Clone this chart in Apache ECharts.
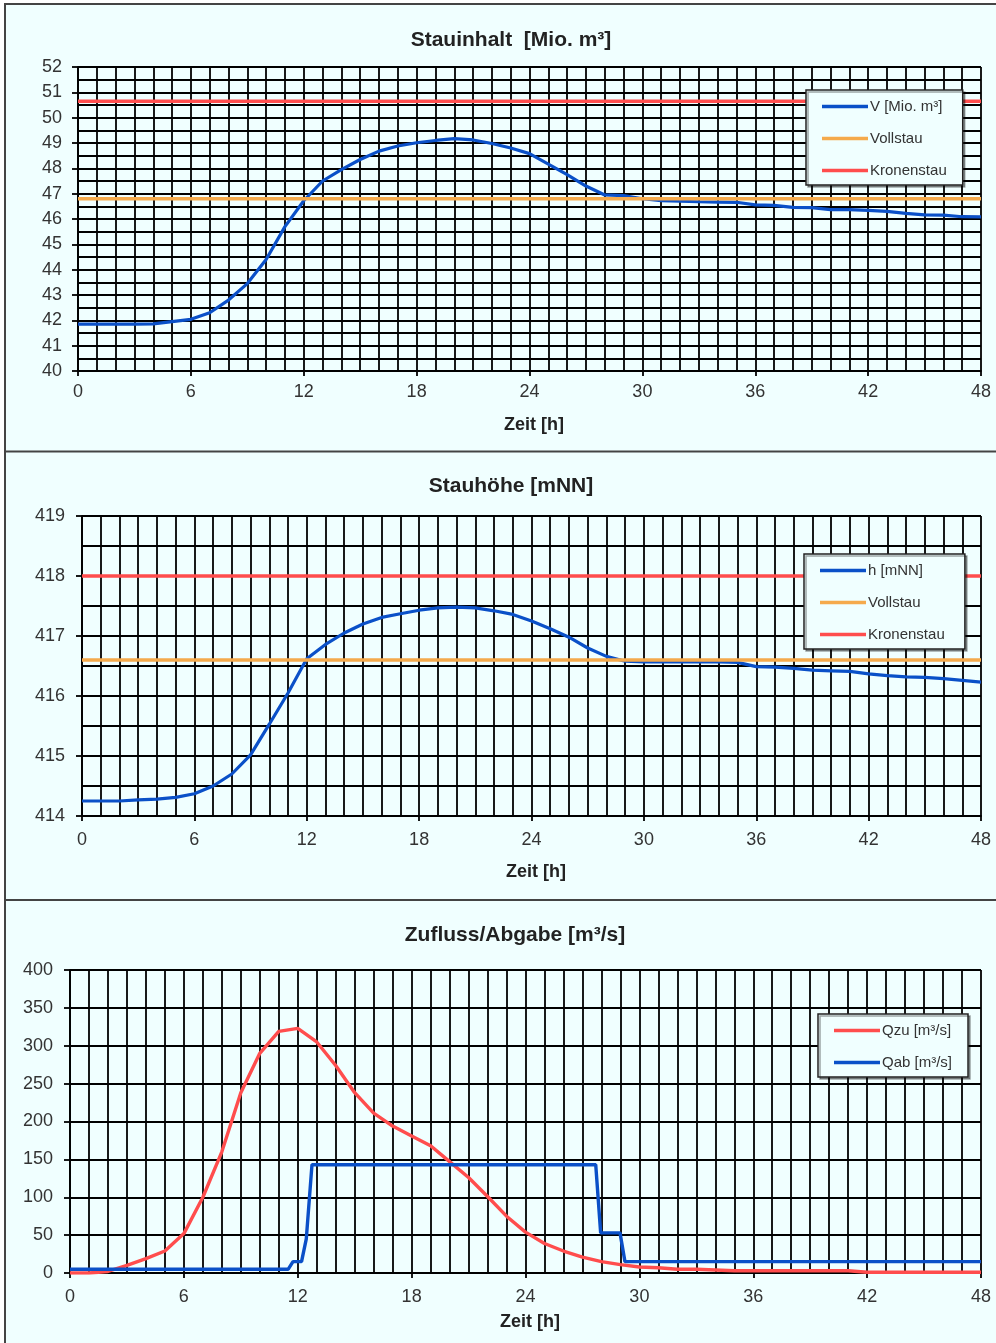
<!DOCTYPE html>
<html>
<head>
<meta charset="utf-8">
<script src="https://cdn.jsdelivr.net/npm/echarts@6/dist/echarts.min.js"></script>
<style>
html,body{margin:0;padding:0;background:#fff;}
#main{width:996px;height:1343px;}
</style>
</head>
<body>
<div id="main"></div>
<script>
// ---------- data ----------
const hours = [0,1,2,3,4,5,6,7,8,9,10,11,12,13,14,15,16,17,18,19,20,21,22,23,24,25,26,27,28,29,30,31,32,33,34,35,36,37,38,39,40,41,42,43,44,45,46,47,48];
const xTickLabels = ['0','6','12','18','24','30','36','42','48'];

// Stauinhalt V [Mio. m³]
const volume = [41.85,41.85,41.85,41.85,41.86,41.95,42.04,42.3,42.8,43.45,44.4,45.7,46.72,47.5,47.95,48.35,48.68,48.88,49.01,49.1,49.17,49.12,48.98,48.8,48.58,48.17,47.75,47.3,46.95,46.92,46.8,46.72,46.7,46.68,46.67,46.66,46.56,46.54,46.46,46.45,46.37,46.37,46.34,46.3,46.22,46.16,46.15,46.09,46.08];
const vollstauV = 46.8;
const kronenstauV = 50.65;

// Stauhöhe h [mNN]
const stage = [414.25,414.25,414.25,414.27,414.28,414.31,414.37,414.5,414.7,415.02,415.53,416.05,416.62,416.86,417.05,417.2,417.31,417.37,417.43,417.47,417.48,417.47,417.42,417.36,417.25,417.12,416.98,416.8,416.66,416.58,416.57,416.57,416.57,416.57,416.57,416.56,416.49,416.48,416.46,416.43,416.42,416.41,416.37,416.34,416.32,416.31,416.29,416.26,416.23];
const vollstauH = 416.6;
const kronenstauH = 418.0;

// Zufluss Qzu [m³/s]
const inflow = [0,0,2,10,19,29,52,100,160,238,290,319,323,305,274,238,211,194,181,168,147,126,101,75,54,39,29,21,15,11,8,7,5,5,4,3,3,3,3,3,3,3,1,1,1,1,1,1,1];

// Abgabe Qab [m³/s]
const outflowHours = [0,11.5,11.75,12.2,12.45,12.75,27.7,27.96,28.98,29.24,48];
const outflow = [5,5,15,15,45,143,143,53,53,15,15];

// ---------- helpers ----------
const FONT = 'Liberation Sans, Arial, sans-serif';
const BLUE = '#0a50c8', ORANGE = '#f5aa4c', RED = '#ff4d4d';
const BG = '#f0ffff';
const GRIDW = 1.8;
const pairs = (xs, ys) => xs.map((x, i) => [x, ys[i]]);
const flat = (v) => [[hours[0], v], [hours[hours.length - 1], v]];

function xAxis(gi, margin, nameGap) {
  return {
    gridIndex: gi, type: 'value', min: 0, max: 48, interval: 6,
    axisLine: {show: true, lineStyle: {color: '#000', width: GRIDW}},
    axisTick: {show: true, length: 5, lineStyle: {color: '#000', width: GRIDW}},
    axisLabel: {fontSize: 18, color: '#333', margin: margin, fontFamily: FONT,
      formatter: (v) => xTickLabels[Math.round(v / 6)]},
    splitLine: {show: true, lineStyle: {color: '#000', width: GRIDW}},
    minorTick: {show: false, splitNumber: 6},
    minorSplitLine: {show: true, lineStyle: {color: '#000', width: GRIDW}},
    name: 'Zeit [h]', nameLocation: 'middle', nameGap: nameGap,
    nameTextStyle: {fontSize: 18, fontWeight: 'bold', color: '#222', fontFamily: FONT, padding: [0, 0, 0, 9]}
  };
}
function yAxis(gi, min, max, interval, minorSplit, margin) {
  return {
    gridIndex: gi, type: 'value', min: min, max: max, interval: interval,
    axisLine: {show: true, lineStyle: {color: '#000', width: GRIDW}},
    axisTick: {show: true, length: 6, lineStyle: {color: '#000', width: GRIDW}},
    axisLabel: {fontSize: 18, color: '#333', margin: margin, fontFamily: FONT},
    splitLine: {show: true, lineStyle: {color: '#000', width: GRIDW}},
    minorTick: {show: false, splitNumber: minorSplit || 1},
    minorSplitLine: {show: !!minorSplit, lineStyle: {color: '#000', width: GRIDW}}
  };
}
function line(name, data, color, width, xi, z) {
  return {
    name: name, type: 'line', xAxisIndex: xi, yAxisIndex: xi, data: data,
    symbol: 'none', smooth: false, z: z || 2,
    lineStyle: {color: color, width: width}, itemStyle: {color: color},
    emphasis: {disabled: true}, animation: false
  };
}
function legend(names, left, top) {
  return {
    data: names, orient: 'vertical', left: left, top: top,
    icon: 'rect', itemWidth: 46, itemHeight: 3.5, itemGap: 17,
    padding: [9, 16, 7, 16],
    backgroundColor: BG, borderColor: '#222', borderWidth: 1.5,
    shadowColor: 'rgba(0,0,0,0.35)', shadowOffsetX: 2, shadowOffsetY: 2, shadowBlur: 0,
    textStyle: {fontSize: 15, color: '#333', fontFamily: FONT, padding: [0, 0, 0, -3]},
    selectedMode: false
  };
}
function title(text, x, y) {
  return {
    text: text, left: x, top: y, textAlign: 'center', padding: 0,
    textStyle: {fontSize: 21, fontWeight: 'bold', color: '#222', fontFamily: FONT}
  };
}

const option = {
  backgroundColor: BG,
  animation: false,
  title: [
    title('Stauinhalt  [Mio. m³]', 511, 30),
    title('Stauhöhe [mNN]', 511, 476),
    title('Zufluss/Abgabe [m³/s]', 515, 925)
  ],
  legend: [
    legend(['V [Mio. m³]', 'Vollstau', 'Kronenstau'], 806, 90),
    legend(['h [mNN]', 'Vollstau ', 'Kronenstau '], 804, 554),
    legend(['Qzu [m³/s]', 'Qab [m³/s]'], 818, 1014)
  ],
  grid: [
    {left: 78, top: 67, width: 903, height: 304},
    {left: 82, top: 516, width: 899, height: 300},
    {left: 70, top: 970, width: 911, height: 303}
  ],
  xAxis: [xAxis(0, 12, 45), xAxis(1, 15, 47), xAxis(2, 15, 40)],
  yAxis: [
    yAxis(0, 40, 52, 1, 2, 16),
    yAxis(1, 414, 419, 1, 2, 17),
    yAxis(2, 0, 400, 50, 0, 17)
  ],
  series: [
    line('V [Mio. m³]', pairs(hours, volume), BLUE, 3.2, 0, 2),
    line('Vollstau', flat(vollstauV), ORANGE, 3.6, 0, 3),
    line('Kronenstau', flat(kronenstauV), RED, 3.4, 0, 3),
    line('h [mNN]', pairs(hours, stage), BLUE, 3.2, 1, 2),
    line('Vollstau ', flat(vollstauH), ORANGE, 3.6, 1, 3),
    line('Kronenstau ', flat(kronenstauH), RED, 3.4, 1, 3),
    line('Qzu [m³/s]', pairs(hours, inflow), RED, 3.4, 2, 2),
    line('Qab [m³/s]', pairs(outflowHours, outflow), BLUE, 3.4, 2, 3)
  ],
  graphic: [
    {type: 'rect', shape: {x: 0, y: 0, width: 996, height: 3}, style: {fill: '#fff'}, silent: true},
    {type: 'rect', shape: {x: 0, y: 0, width: 4, height: 1343}, style: {fill: '#fff'}, silent: true},
    {type: 'line', shape: {x1: 4, y1: 4, x2: 996, y2: 4}, style: {stroke: '#444', lineWidth: 2}, silent: true},
    {type: 'line', shape: {x1: 5, y1: 4, x2: 5, y2: 1343}, style: {stroke: '#444', lineWidth: 2}, silent: true},
    {type: 'line', shape: {x1: 5, y1: 451.5, x2: 996, y2: 451.5}, style: {stroke: '#444', lineWidth: 2}, silent: true},
    {type: 'line', shape: {x1: 5, y1: 900, x2: 996, y2: 900}, style: {stroke: '#444', lineWidth: 2}, silent: true}
  ]
};

const chart = echarts.init(document.getElementById('main'), null, {renderer: 'canvas'});
chart.setOption(option);
</script>
</body>
</html>
